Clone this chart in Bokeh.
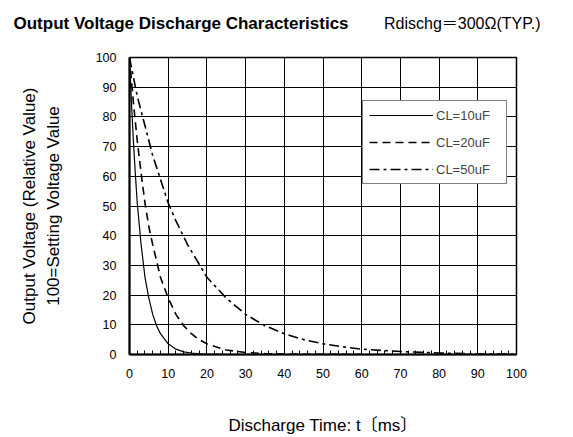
from bokeh.plotting import figure
from bokeh.models import Range1d, SingleIntervalTicker, FixedTicker, LinearAxis, Legend, LegendItem
from bokeh.embed import file_html
from bokeh.resources import INLINE

# Data (time in ms, relative output voltage)
t_10 = [0, 0.5, 1, 1.5, 2, 3, 4, 5, 6, 7, 8, 10, 12, 14, 16, 18, 20, 25, 30]
v_10 = [100, 85, 72, 61, 51, 37, 26, 19, 13.5, 9.7, 7, 3.6, 1.8, 0.9, 0.5, 0.25, 0.1, 0, 0]

t_20 = [0, 1, 2, 3, 4, 5, 6, 8, 10, 12, 14, 16, 18, 20, 25, 30, 35, 40, 50, 60]
v_20 = [100, 85, 72, 61, 51, 43, 37, 26, 19, 13.5, 9.7, 7, 5, 3.6, 1.5, 0.7, 0.3, 0.15, 0.05, 0]

t_50 = [0, 2, 4, 6, 8, 10, 12, 15, 20, 25, 30, 35, 40, 45, 50, 55, 60, 70, 80, 90, 100]
v_50 = [100, 87, 77, 67, 59, 51, 45, 37, 26, 19, 13.5, 9.7, 7, 5, 3.6, 2.6, 1.8, 1, 0.5, 0.2, 0.1]

series_labels = ["CL=10uF", "CL=20uF", "CL=50uF"]
title_text = "Output Voltage Discharge Characteristics"
cond_text = "Rdischg\uff1d300\u03a9(TYP.)"
ylabel_text = "Output Voltage (Relative Value)\n100=Setting Voltage Value"
xlabel_text = "Discharge Time: t\u3014ms\u3015"

FONT = "Liberation Sans, Arial, Noto Sans CJK JP, sans-serif"
W, H = 573, 437

p = figure(width=W, height=H, output_backend="svg", toolbar_location=None,
           x_range=Range1d(0, 100), y_range=Range1d(0, 100),
           min_border_left=129, min_border_right=57, min_border_top=57, min_border_bottom=82)

p.background_fill_color = "white"
p.border_fill_color = "white"
p.outline_line_color = "black"
p.outline_line_width = 1.5

bx = p.below[0]
ly = p.left[0]

bx.ticker = SingleIntervalTicker(interval=10, num_minor_ticks=5)
ly.ticker = SingleIntervalTicker(interval=10, num_minor_ticks=0)
for ax in (bx, ly):
    ax.axis_line_color = "black"
    ax.axis_line_width = 2
    ax.major_tick_in = 0
    ax.major_tick_out = 0
    ax.major_label_text_font = FONT
    ax.major_label_text_font_size = "12.5px"
    ax.major_label_text_color = "black"
    ax.axis_label_text_font = FONT
    ax.axis_label_text_font_size = "17px"
    ax.axis_label_text_font_style = "normal"
    ax.axis_label_text_color = "black"
bx.minor_tick_in = 4
bx.minor_tick_out = 0
bx.minor_tick_line_color = "black"
ly.minor_tick_line_color = None
bx.major_label_standoff = 14
ly.major_label_standoff = 13

bx.axis_label = xlabel_text
bx.axis_label_standoff = 35
ly.axis_label = ylabel_text
ly.axis_label_standoff = 30
ly.axis_label_text_line_height = 1.25

# condition text as the single label of a bare axis above the frame
COND_POS = 86.0
top_ax = LinearAxis(ticker=FixedTicker(ticks=[COND_POS]),
                    major_label_overrides={COND_POS: cond_text})
top_ax.axis_line_color = None
top_ax.major_tick_line_color = None
top_ax.minor_tick_line_color = None
top_ax.major_tick_in = 0
top_ax.major_tick_out = 0
top_ax.major_label_text_font = FONT
top_ax.major_label_text_font_size = "16px"
top_ax.major_label_text_color = "black"
top_ax.major_label_standoff = 26
p.add_layout(top_ax, "above")

# title (bold, left), pulled down onto the same row as the condition text
p.title.text = title_text
p.title.text_font = FONT
p.title.text_font_size = "17px"
p.title.text_font_style = "bold"
p.title.text_color = "black"
p.title.align = "left"
p.title.offset = -116
p.title.standoff = -42

p.xgrid.ticker = SingleIntervalTicker(interval=10)
p.ygrid.ticker = SingleIntervalTicker(interval=10)
for g in (p.xgrid, p.ygrid):
    g.grid_line_color = "black"
    g.grid_line_width = 1
    g.grid_line_alpha = 1

r10 = p.line(t_10, v_10, line_color="black", line_width=1.2)
r20 = p.line(t_20, v_20, line_color="black", line_width=1.6, line_dash="8 5")
r50 = p.line(t_50, v_50, line_color="black", line_width=1.6, line_dash="10 4 3 4")

legend = Legend(items=[LegendItem(label=series_labels[0], renderers=[r10]),
                       LegendItem(label=series_labels[1], renderers=[r20]),
                       LegendItem(label=series_labels[2], renderers=[r50])],
                location=(233, 170))
legend.border_line_color = "black"
legend.border_line_width = 1
legend.background_fill_color = "white"
legend.background_fill_alpha = 1
legend.label_text_font = FONT
legend.label_text_font_size = "13px"
legend.glyph_width = 64
legend.glyph_height = 16
legend.label_height = 16
legend.label_width = 64
legend.label_standoff = 3
legend.spacing = 11
legend.padding = 6
legend.margin = 0
p.add_layout(legend, "center")

open("out.html", "w").write(file_html(p, INLINE))
